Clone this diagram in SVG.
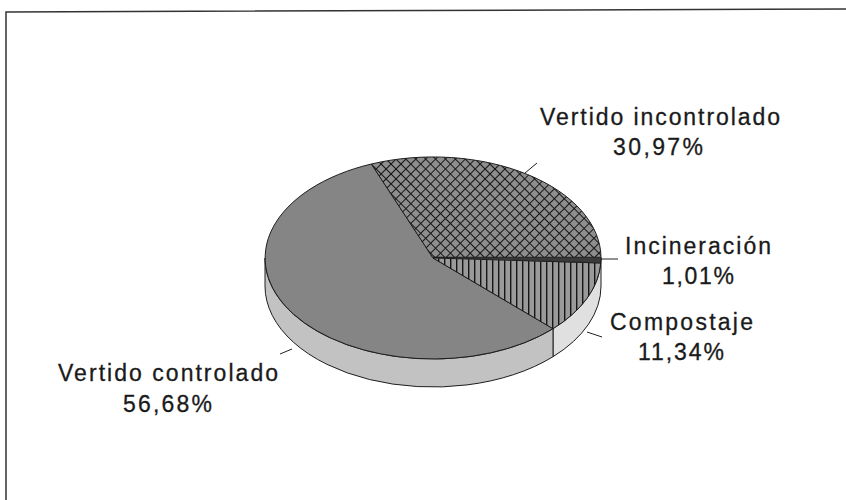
<svg xmlns="http://www.w3.org/2000/svg" width="846" height="500" viewBox="0 0 846 500">
<defs>
<pattern id="cross" patternUnits="userSpaceOnUse" width="7" height="7" patternTransform="rotate(45)">
<rect width="7" height="7" fill="#8e8e8e"/>
<path d="M0 0H7M0 0V7" stroke="#161616" stroke-width="2" fill="none"/>
</pattern>
<pattern id="vert" patternUnits="userSpaceOnUse" width="6" height="6">
<rect width="6" height="6" fill="#9a9a9a"/>
<path d="M0.7 0V6" stroke="#161616" stroke-width="1.4" fill="none"/>
</pattern>
<style>
.edge{stroke:#1e1e1e;stroke-width:1;stroke-linejoin:round}
.lbl{font-family:"Liberation Sans",Arial,sans-serif;font-size:23px;fill:#1a1a1a;stroke:#1a1a1a;stroke-width:0.3}
.lead{stroke:#222;stroke-width:1;fill:none}
</style>
</defs>
<rect width="846" height="500" fill="#fff"/>
<polyline points="6,500 6,12 846,9" fill="none" stroke="#333" stroke-width="1.5"/>

<g id="sides">
<path class="edge" fill="#e0e0e0" d="M601,258 A168 101 0 0 1 553,328.7 L553,356.7 A168 101 0 0 0 601,286 Z"/>
<path class="edge" fill="#c2c2c2" d="M553,328.7 A168 101 0 0 1 265,258 L265,286 A168 101 0 0 0 553,356.7 Z"/>
</g>

<g id="vertido-controlado">
<path class="edge" fill="#858585" d="M433,258 L553,328.7 A168 101 0 1 1 371.4,164 Z"/>
<text class="lbl" x="58" y="381" textLength="220" lengthAdjust="spacing">Vertido controlado</text>
<text class="lbl" x="123" y="412" textLength="89" lengthAdjust="spacing">56,68%</text>
</g>

<g id="vertido-incontrolado">
<path class="edge" fill="url(#cross)" d="M433,258 L371.4,164 A168 101 0 0 1 601,258 Z"/>
<text class="lbl" x="540" y="125" textLength="240" lengthAdjust="spacing">Vertido incontrolado</text>
<text class="lbl" x="613" y="155" textLength="90" lengthAdjust="spacing">30,97%</text>
</g>

<g id="compostaje">
<path class="edge" fill="url(#vert)" d="M433,258 L600.7,263 A168 101 0 0 1 553,328.7 Z"/>
<text class="lbl" x="610" y="330" textLength="143" lengthAdjust="spacing">Compostaje</text>
<text class="lbl" x="638" y="360" textLength="86" lengthAdjust="spacing">11,34%</text>
</g>

<g id="incineracion">
<path fill="#3a3a3a" stroke="#1e1e1e" stroke-width="0.8" d="M433,257.2 L601,257.2 A168 101 0 0 1 600.7,263 Z"/>
<text class="lbl" x="625" y="254" textLength="146" lengthAdjust="spacing">Incineración</text>
<text class="lbl" x="662" y="284" textLength="72" lengthAdjust="spacing">1,01%</text>
</g>

<g id="connectors">
<line class="lead" x1="525" y1="173" x2="537" y2="163"/>
<line class="lead" x1="601" y1="259" x2="618" y2="259"/>
<line class="lead" x1="587" y1="332" x2="602" y2="337"/>
<line class="lead" x1="280" y1="354" x2="292" y2="349"/>
</g>
</svg>
